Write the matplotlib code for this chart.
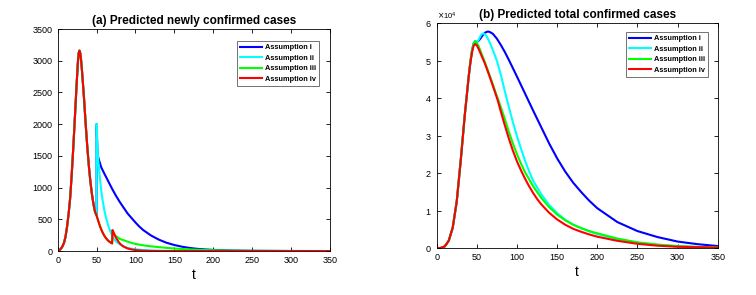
import matplotlib
matplotlib.use("Agg")
import matplotlib.pyplot as plt
import numpy as np
from matplotlib.ticker import ScalarFormatter

plt.rcParams['font.family'] = ['Liberation Sans', 'DejaVu Sans']

labels = ["Assumption i", "Assumption ii", "Assumption iii", "Assumption iv"]
colors = ["#0000ff", "#00ffff", "#00ff00", "#ff0000"]

# ---------- (a) newly confirmed cases ----------
# common part (t <= 50)
a_t_common = [0, 2, 4, 6, 8, 10, 12, 14, 16, 18, 20, 22, 24, 25, 26, 27, 28, 29, 30, 31, 32, 33, 34, 35, 36, 38, 40, 42, 44, 46, 48, 50]
a_v_common = [0, 10, 35, 70, 125, 220, 380, 580, 830, 1200, 1620, 2080, 2550, 2770, 2980, 3120, 3160, 3120, 3020, 2880, 2720, 2550, 2380, 2190, 2000, 1650, 1350, 1100, 900, 740, 620, 560]

# red / green continuation (50 < t <= 70) before second step
a_t_mid = [52, 54, 56, 58, 60, 62, 64, 66, 68, 70]
a_v_mid = [480, 405, 340, 285, 240, 205, 175, 152, 135, 120]

# Assumption i (blue) after t=50
a_t_i = [50, 51, 52, 54, 56, 60, 65, 70, 75, 80, 85, 90, 95, 100, 105, 110, 120, 130, 140, 150, 160, 170, 180, 190, 200, 225, 250, 300, 350]
a_v_i = [2000, 1600, 1480, 1400, 1320, 1220, 1100, 980, 870, 770, 680, 590, 520, 450, 385, 330, 245, 180, 130, 95, 68, 48, 34, 25, 18, 8, 4, 1, 0]

# Assumption ii (cyan) after t=50
a_t_ii = [50, 51, 52, 54, 56, 58, 60, 62, 65, 68, 71, 75, 80, 85, 90, 95, 100, 110, 120, 130, 150, 200, 350]
a_v_ii = [2000, 1700, 1450, 1180, 950, 780, 640, 530, 400, 300, 210, 150, 105, 72, 50, 37, 28, 15, 8, 4, 1, 0, 0]

# Assumption iii (green) after t=70
a_t_iii = [70, 70.5, 72, 74, 76, 80, 85, 90, 95, 100, 110, 120, 130, 140, 150, 160, 175, 190, 200, 225, 250, 275, 300, 350]
a_v_iii = [120, 330, 280, 245, 225, 190, 170, 148, 128, 112, 90, 74, 62, 50, 40, 32, 23, 16, 13, 7, 4, 2, 1, 0]

# Assumption iv (red) after t=70
a_t_iv = [70, 70.5, 72, 74, 76, 78, 80, 82, 85, 90, 95, 100, 110, 120, 150, 350]
a_v_iv = [120, 330, 290, 230, 190, 150, 118, 95, 68, 40, 25, 15, 6, 2, 0, 0]

# ---------- (b) total confirmed cases (x 1e4) ----------
b_t_iv = [0, 5, 10, 15, 20, 25, 30, 35, 40, 42, 44, 46, 48, 50, 52, 55, 60, 65, 70, 76, 80, 85, 90, 95, 100, 105, 110, 115, 120, 125, 130, 140, 150, 160, 170, 180, 190, 200, 225, 250, 275, 300, 325, 350]
b_v_iv = [0, 0.01, 0.05, 0.2, 0.55, 1.25, 2.35, 3.55, 4.6, 4.95, 5.22, 5.4, 5.45, 5.41, 5.33, 5.18, 4.93, 4.64, 4.33, 3.95, 3.64, 3.27, 2.92, 2.6, 2.32, 2.08, 1.86, 1.66, 1.48, 1.32, 1.18, 0.95, 0.77, 0.63, 0.52, 0.44, 0.37, 0.31, 0.2, 0.12, 0.07, 0.04, 0.03, 0.02]

b_t_iii = [0, 5, 10, 15, 20, 25, 30, 35, 40, 42, 44, 46, 48, 50, 52, 55, 60, 65, 70, 75, 80, 85, 90, 95, 100, 105, 110, 120, 130, 140, 150, 160, 170, 180, 190, 200, 225, 250, 275, 300, 325, 350]
b_v_iii = [0, 0.01, 0.05, 0.2, 0.55, 1.25, 2.35, 3.55, 4.6, 4.97, 5.27, 5.46, 5.52, 5.48, 5.4, 5.24, 4.97, 4.67, 4.37, 4.06, 3.76, 3.44, 3.1, 2.79, 2.51, 2.26, 2.03, 1.66, 1.35, 1.1, 0.9, 0.75, 0.63, 0.54, 0.46, 0.4, 0.26, 0.16, 0.1, 0.06, 0.04, 0.02]

b_t_ii = [0, 5, 10, 15, 20, 25, 30, 35, 40, 42, 44, 46, 48, 50, 52, 54, 56, 58, 60, 62, 65, 70, 75, 80, 85, 90, 95, 100, 105, 110, 115, 120, 130, 140, 150, 160, 170, 180, 190, 200, 225, 250, 275, 300, 325, 350]
b_v_ii = [0, 0.01, 0.05, 0.2, 0.55, 1.25, 2.35, 3.55, 4.6, 4.97, 5.27, 5.46, 5.52, 5.5, 5.55, 5.64, 5.71, 5.73, 5.71, 5.66, 5.54, 5.29, 5.0, 4.62, 4.18, 3.76, 3.36, 2.99, 2.66, 2.34, 2.06, 1.81, 1.45, 1.16, 0.94, 0.76, 0.63, 0.53, 0.45, 0.38, 0.24, 0.15, 0.09, 0.05, 0.03, 0.02]

b_t_i = [0, 5, 10, 15, 20, 25, 30, 35, 40, 42, 44, 46, 48, 50, 52, 54, 56, 58, 60, 62, 64, 66, 70, 75, 80, 85, 90, 95, 100, 110, 120, 130, 140, 150, 160, 170, 180, 190, 200, 225, 250, 275, 300, 325, 350]
b_v_i = [0, 0.01, 0.05, 0.2, 0.55, 1.25, 2.35, 3.55, 4.6, 4.97, 5.27, 5.46, 5.52, 5.5, 5.53, 5.58, 5.64, 5.7, 5.74, 5.77, 5.78, 5.77, 5.72, 5.59, 5.42, 5.23, 5.02, 4.8, 4.58, 4.13, 3.68, 3.24, 2.8, 2.4, 2.05, 1.75, 1.5, 1.27, 1.07, 0.7, 0.46, 0.3, 0.18, 0.11, 0.06]

fig = plt.figure(figsize=(7.56, 2.95), dpi=100)
ax1 = fig.add_axes([0.0763, 0.149, 0.3602, 0.7525])
ax2 = fig.add_axes([0.5776, 0.1583, 0.3717, 0.7627])

# build series for (a)
common_t = np.array(a_t_common, dtype=float)
common_v = np.array(a_v_common, dtype=float)
ser_a = [
    (np.concatenate([common_t, a_t_i]), np.concatenate([common_v, a_v_i])),
    (np.concatenate([common_t, a_t_ii]), np.concatenate([common_v, a_v_ii])),
    (np.concatenate([common_t, a_t_mid, a_t_iii]), np.concatenate([common_v, a_v_mid, a_v_iii])),
    (np.concatenate([common_t, a_t_mid, a_t_iv]), np.concatenate([common_v, a_v_mid, a_v_iv])),
]
for (t, v), c, lab in zip(ser_a, colors, labels):
    ax1.plot(t, v, color=c, lw=1.5, label=lab)

ser_b = [(b_t_i, b_v_i), (b_t_ii, b_v_ii), (b_t_iii, b_v_iii), (b_t_iv, b_v_iv)]
for (t, v), c, lab in zip(ser_b, colors, labels):
    ax2.plot(t, np.array(v) * 1e4, color=c, lw=1.5, label=lab)

leg_anchor = {ax1: (0.96, 0.945), ax2: (0.965, 0.96)}
for ax in (ax1, ax2):
    ax.set_xlim(0, 350)
    ax.set_xticks(np.arange(0, 351, 50))
    ax.tick_params(direction='in', length=3, width=0.6, top=True, right=True, labelsize=6.5, pad=3.5)
    for s in ax.spines.values():
        s.set_linewidth(0.6)
    ax.set_xlabel('t', fontsize=10, labelpad=2)
    leg = ax.legend(loc='upper right', frameon=True, fancybox=False,
                    edgecolor='#333333', handlelength=3.0, borderpad=0.4, labelspacing=0.45,
                    handletextpad=0.4, borderaxespad=0.0, prop={'size': 5.3, 'weight': 'bold'},
                    bbox_to_anchor=leg_anchor[ax])
    leg.get_frame().set_linewidth(0.6)

ax1.set_ylim(0, 3500)
ax1.set_yticks(np.arange(0, 3501, 500))
ax1.set_title('(a) Predicted newly confirmed cases', fontsize=8.5, fontweight='bold', pad=4)

ax2.set_ylim(0, 6e4)
ax2.set_yticks(np.arange(0, 6.01e4, 1e4))
fmt = ScalarFormatter(useMathText=True)
fmt.set_powerlimits((0, 0))
ax2.yaxis.set_major_formatter(fmt)
ax2.yaxis.get_offset_text().set_fontsize(5.5)
ax2.set_title('(b) Predicted total confirmed cases', fontsize=8.5, fontweight='bold', pad=4)

fig.savefig('out.png', dpi=100)
